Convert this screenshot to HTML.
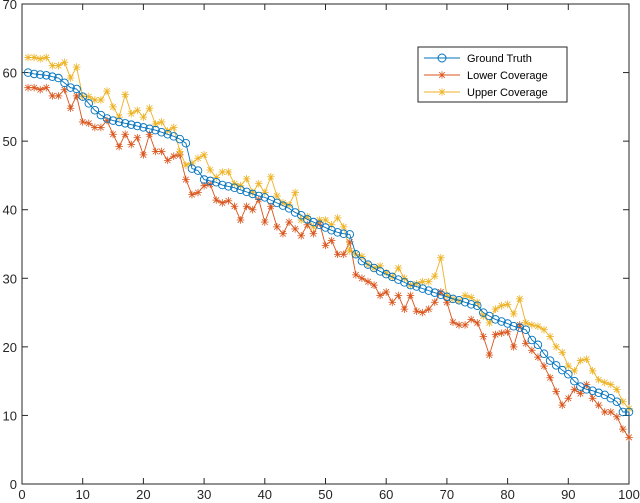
<!DOCTYPE html>
<html><head><meta charset="utf-8"><style>
body{margin:0;background:#fff;}
svg{display:block;font-family:"Liberation Sans",sans-serif;}
</style></head><body>
<svg id="chart" width="640" height="503"></svg>
<script>
const xTicks=[0,10,20,30,40,50,60,70,80,90,100];
const yTicks=[0,10,20,30,40,50,60,70];
const groundTruth=[60,59.8,59.7,59.6,59.4,59.2,58.5,57.8,57.6,56.5,55.5,54.5,53.8,53.3,53,52.8,52.6,52.4,52.2,52,51.8,51.6,51.3,51,50.7,50.3,49.7,46,45.7,44.4,44.2,44,43.6,43.4,43.2,42.9,42.6,42.3,42,41.8,41.4,41,40.6,40.2,39.6,39.2,38.6,38.2,37.8,37.4,37,36.7,36.5,36.4,33.5,32.5,32,31.5,31,30.6,30.2,29.8,29.4,29,28.8,28.5,28.2,27.9,27.6,27.3,27,26.8,26.5,26.2,26,25,24.5,24,23.7,23.4,23,22.8,22.5,21,20.3,19,18,17.3,16.6,16,15,14.2,13.8,13.6,13.3,13,12.5,12,10.5,10.5];
const lowerCoverage=[57.8,57.8,57.5,57.8,56.6,56.6,57.5,54.8,56.6,52.8,52.6,52,52,53,51,49.2,51,49.5,50.5,48,51,48.5,48.5,47.2,47.8,48,44.4,42.2,42.5,43.5,43.7,41.4,41,41.3,40.5,38.5,40.5,40,41.5,38.2,40.5,37.5,36.5,38.2,37.2,36.2,37.8,36.5,38.1,34.8,35.5,33.5,33.5,35.3,30.5,30,29.5,29,27.5,28,26.5,27.5,25.5,27.5,25.2,25,25.5,26.5,28,26.5,23.6,23.2,23.2,24,23.5,21.5,18.8,21.8,22,22.2,20,23.2,20.5,19.5,18.5,17.2,15.5,13.5,11.5,12.5,13.8,13.2,14.5,12.5,11.5,10.5,10.5,9.8,8,6.8];
const upperCoverage=[62.2,62.2,62,62.2,61,61,61.5,59.2,60.8,56.5,56.5,56,56,57.3,55,53.5,56.8,54,54.5,53.5,54.8,52.5,52.8,51.5,52,48.5,46.5,46.8,47.5,48,45.8,44.7,45.5,45.5,43.8,43.5,44.5,42.5,43.8,42.5,44.8,42,41,40.7,42.5,38.5,39,37.5,38.5,38.5,37.8,38.8,37.5,34,33.5,33.2,32,31.5,31.8,30.8,30.2,31.5,30,29,29.2,29.5,29.5,30.3,33,27.5,27,26.7,27.5,27.2,26.5,24.5,23.5,25.5,26,26.2,24.8,27,23.5,23.2,23,22.5,21.5,20,19.2,17.2,16.5,18,18.2,16.5,15.2,14.8,14.5,13.8,12,11];
const NS="http://www.w3.org/2000/svg";
const svg=document.getElementById('chart');
const L=22,R=629,T=4,B=484;
const sx=v=>L+(v-0)/100*(R-L);
const sy=v=>B-(v-0)/70*(B-T);
function mk(tag,attrs,parent){const e=document.createElementNS(NS,tag);for(const k in attrs)e.setAttribute(k,attrs[k]);(parent||svg).appendChild(e);return e;}
const frame=mk('rect',{x:L,y:T,width:R-L,height:B-T,fill:'none',stroke:'#262626','stroke-width':1});


xTicks.forEach(t=>{
  const l=mk('line',{x1:sx(t),x2:sx(t),y1:B,y2:B-6,stroke:'#262626'});
  
  
  const l2=mk('line',{x1:sx(t),x2:sx(t),y1:T,y2:T+6,stroke:'#262626'});
  
  
  const tx=mk('text',{x:sx(t),y:B+15,'text-anchor':'middle','font-size':13,fill:'#262626'});
  tx.textContent=t;
  
  
});
yTicks.forEach(t=>{
  const l=mk('line',{x1:L,x2:L+6,y1:sy(t),y2:sy(t),stroke:'#262626'});
  
  
  const l2=mk('line',{x1:R,x2:R-6,y1:sy(t),y2:sy(t),stroke:'#262626'});
  
  
  const tx=mk('text',{x:L-5,y:sy(t)+5,'text-anchor':'end','font-size':13,fill:'#262626'});
  tx.textContent=t;
  
  
});
function star(g,x,y,c){
  const r=3.8,d=2.8;
  mk('line',{x1:x-d,x2:x+d,y1:y-d,y2:y+d,stroke:c,'stroke-width':0.8},g);
  mk('line',{x1:x-d,x2:x+d,y1:y+d,y2:y-d,stroke:c,'stroke-width':0.8},g);
  mk('line',{x1:x,x2:x,y1:y-r,y2:y+r,stroke:c,'stroke-width':0.8},g);
  mk('line',{x1:x-r,x2:x+r,y1:y,y2:y,stroke:c,'stroke-width':0.8},g);
}
function series(data,color,name,marker){
  const g=mk('g',{});
  
  
  const pts=data.map((v,i)=>sx(i+1)+','+sy(v)).join(' ');
  mk('polyline',{points:pts,fill:'none',stroke:color,'stroke-width':0.9},g);
  data.forEach((v,i)=>{
    if(marker==='o') mk('circle',{cx:sx(i+1),cy:sy(v),r:3.8,fill:'none',stroke:color,'stroke-width':0.9},g);
    else star(g,sx(i+1),sy(v),color);
  });
}
series(lowerCoverage,'#d95319','lower-coverage-series','*');
series(upperCoverage,'#edb120','upper-coverage-series','*');
series(groundTruth,'#0072bd','ground-truth-series','o');
const lg=mk('g',{});


mk('rect',{x:418,y:47,width:149,height:55,fill:'#fff',stroke:'#262626'},lg);
const items=[['Ground Truth','#0072bd','o'],['Lower Coverage','#d95319','*'],['Upper Coverage','#edb120','*']];
items.forEach((it,i)=>{
  const y=58+i*17;
  const e=mk('g',{},lg);
  
  
  mk('line',{x1:424,x2:460,y1:y,y2:y,stroke:it[1]},e);
  if(it[2]==='o') mk('circle',{cx:442,cy:y,r:4,fill:'none',stroke:it[1]},e); else star(e,442,y,it[1]);
  const t=mk('text',{x:467,y:y+4,'font-size':11,fill:'#000'},e);
  t.textContent=it[0];
});
</script>
</body></html>
